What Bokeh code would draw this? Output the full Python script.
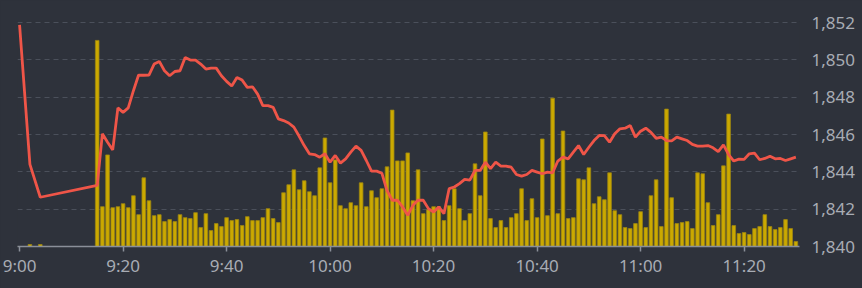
from bokeh.plotting import figure
from bokeh.models import Range1d, FixedTicker, ColumnDataSource, NumeralTickFormatter
from bokeh.embed import file_html
from bokeh.resources import INLINE

# ---- data ----
early_times = ["9:00", "9:02", "9:04"]
early_price = [1851.88, 1844.40, 1842.64]
early_volume = [0, 2, 2]

session_times = [f"{h}:{m:02d}" for h, m in
                 [(9, m) for m in range(15, 60)] + [(10, m) for m in range(0, 60)] + [(11, m) for m in range(0, 31)]]

session_price = [
    1843.28, 1846.04, 1845.59, 1845.18, 1847.43, 1847.19, 1847.43, 1848.35, 1849.19, 1849.18,
    1849.19, 1849.78, 1849.92, 1849.42, 1849.15, 1849.38, 1849.42, 1850.13, 1849.99, 1849.99,
    1849.78, 1849.51, 1849.56, 1849.56, 1849.15, 1848.85, 1848.60, 1849.06, 1848.92, 1848.53,
    1848.56, 1848.17, 1847.55, 1847.55, 1847.46, 1846.84, 1846.75, 1846.62, 1846.40, 1845.92,
    1845.41, 1844.97, 1844.93, 1844.79, 1844.97,
    1844.52, 1844.88, 1844.47, 1844.70, 1845.06, 1845.38, 1845.15, 1844.61, 1844.04, 1844.04,
    1843.93, 1843.00, 1842.48, 1842.49, 1842.12, 1841.67, 1842.21, 1842.49, 1842.48, 1842.03,
    1841.85, 1842.12, 1841.76, 1843.10, 1843.19, 1843.37, 1843.60, 1843.56, 1844.08, 1844.08,
    1844.52, 1844.17, 1844.52, 1844.31, 1844.31, 1844.25, 1843.86, 1843.77, 1843.86, 1844.08,
    1843.99, 1843.90, 1843.99, 1843.95, 1844.58, 1844.79, 1844.70, 1845.06, 1845.41, 1844.93,
    1845.32, 1845.68, 1845.95, 1845.94, 1845.59, 1846.04, 1846.31, 1846.34, 1846.48, 1845.86,
    1846.18, 1846.34, 1846.12, 1845.80, 1845.86, 1845.68, 1845.66, 1845.86, 1845.77, 1845.68,
    1845.47, 1845.38, 1845.38, 1845.41, 1845.29, 1845.09, 1845.45, 1844.93, 1844.58, 1844.68,
    1844.67, 1844.97, 1845.00, 1844.65, 1844.72, 1844.84, 1844.70, 1844.72, 1844.61, 1844.70,
    1844.79,
]

session_volume = [
    207, 40, 92, 39, 40, 43, 39, 51, 32, 69, 46, 31, 32, 25, 27, 25, 32, 29, 28, 34,
    19, 33, 16, 23, 20, 29, 26, 27, 21, 30, 26, 26, 29, 38, 28, 24, 54, 62, 77, 57,
    66, 55, 51, 79, 109,
    64, 87, 41, 38, 44, 41, 64, 40, 56, 49, 58, 80, 137, 86, 86, 94, 46, 77, 33, 37,
    40, 40, 26, 41, 58, 38, 26, 33, 83, 51, 115, 28, 19, 26, 19, 29, 33, 58, 26, 48,
    29, 108, 31, 149, 33, 116, 28, 29, 68, 67, 79, 43, 50, 47, 74, 36, 32, 19, 18, 23,
    35, 19, 51, 67, 20, 138, 49, 23, 24, 25, 18, 74, 73, 44, 21, 32, 81, 133, 21, 13,
    14, 12, 18, 20, 32, 20, 17, 19, 27, 18, 5,
]

tick_labels = ["9:00", "9:20", "9:40", "10:00", "10:20", "10:40", "11:00", "11:20"]
price_ticks = [1840, 1842, 1844, 1846, 1848, 1850, 1852]

times = early_times + session_times
prices = early_price + session_price
volumes = early_volume + session_volume


def to_min(t):
    h, m = t.split(":")
    return (int(h) - 9) * 60 + int(m)


xs = [to_min(t) for t in times]
tick_pos = [to_min(t) for t in tick_labels]

src = ColumnDataSource(dict(x=xs, price=prices, vol=volumes))

BG = "#2e323b"
LABEL = "#a8acb4"

p = figure(width=862, height=288, output_backend="svg", toolbar_location=None,
           x_range=Range1d(-0.4, 150.7), y_range=Range1d(1840, 1852.06),
           y_axis_location="right", tools="")
p.background_fill_color = BG
p.border_fill_color = BG
p.outline_line_color = None
p.min_border_left = 17
p.min_border_right = 63
p.min_border_top = 21
p.min_border_bottom = 42

p.extra_y_ranges = {"vol": Range1d(0, 226)}

p.vbar(x="x", top="vol", bottom=0, width=0.7, source=src, y_range_name="vol",
       fill_color="#cba900", line_color="#9c8512", line_width=0.8)
p.line(x="x", y="price", source=src, line_color="#ef5548", line_width=2.8)

# grid
p.xgrid.visible = False
p.ygrid.grid_line_color = "#4b505b"
p.ygrid.grid_line_dash = "5 4"
p.ygrid.grid_line_width = 1
p.ygrid.ticker = FixedTicker(ticks=price_ticks[1:])

# x axis
xa = p.xaxis[0]
xa.ticker = FixedTicker(ticks=tick_pos)
xa.major_label_overrides = {tp: lab for tp, lab in zip(tick_pos, tick_labels)}
xa.axis_line_color = "#8a8f99"
xa.axis_line_width = 1.5
xa.major_tick_line_color = "#8a8f99"
xa.major_tick_line_width = 1.5
xa.major_tick_in = 0
xa.major_tick_out = 5
xa.minor_tick_line_color = None
xa.major_label_text_color = LABEL
xa.major_label_text_font = "Noto Sans"
xa.major_label_text_font_size = "17px"
xa.major_label_standoff = 2

# y axis (right)
ya = p.yaxis[0]
ya.ticker = FixedTicker(ticks=price_ticks)
ya.formatter = NumeralTickFormatter(format="0,0")
ya.axis_line_color = None
ya.major_tick_line_color = None
ya.minor_tick_line_color = None
ya.major_tick_in = 0
ya.major_tick_out = 0
ya.major_label_text_color = LABEL
ya.major_label_text_font = "Noto Sans"
ya.major_label_text_font_size = "17px"
ya.major_label_standoff = 12

html = file_html(p, INLINE)
html = html.replace("</head>", "<style>html,body{background:%s;margin:0;}</style></head>" % BG, 1)
open("out.html", "w").write(html)
